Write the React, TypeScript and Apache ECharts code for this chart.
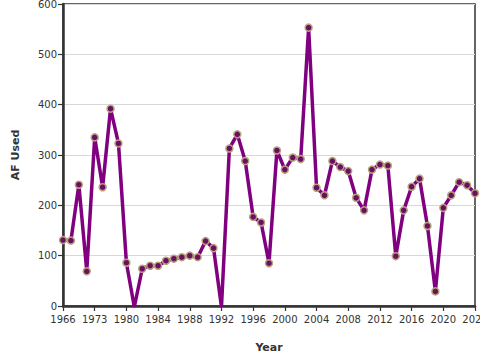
import React, { useEffect, useRef } from "react";
import * as echarts from "echarts";

const years = [
  "1966", "1968", "1970", "1972", "1973", "1975", "1977", "1979",
  "1980", "1981", "1982", "1983", "1984", "1985", "1986", "1987", "1988", "1989",
  "1990", "1991", "1992", "1993", "1994", "1995", "1996", "1997", "1998", "1999",
  "2000", "2001", "2002", "2003", "2004", "2005", "2006", "2007", "2008", "2009",
  "2010", "2011", "2012", "2013", "2014", "2015", "2016", "2017", "2018", "2019",
  "2020", "2021", "2022", "2023", "2024",
];

const afUsed = [
  131, 130, 241, 69, 335, 236, 392, 323,
  86, -2, 74, 80, 80, 90, 94, 97, 100, 97,
  129, 115, -2, 313, 341, 288, 177, 166, 85, 309,
  271, 295, 292, 553, 235, 220, 288, 276, 268, 215,
  190, 271, 281, 279, 99, 190, 237, 253, 159, 29,
  195, 220, 246, 240, 224,
];

const yTicks = { min: 0, max: 600, interval: 100 };

export default function App() {
  const ref = useRef<HTMLDivElement>(null);
  useEffect(() => {
    if (!ref.current) return;
    const chart = echarts.init(ref.current, null, { renderer: "svg" });
    const font = "DejaVu Sans";
    chart.setOption({
      animation: false,
      grid: {
        left: 63,
        right: 5,
        top: 4,
        bottom: 54,
        show: true,
        borderColor: "#333",
        borderWidth: 1.5,
        containLabel: false,
        outerBoundsMode: "none",
      },
      xAxis: {
        type: "category",
        data: years,
        boundaryGap: false,
        name: "Year",
        nameLocation: "middle",
        nameGap: 36,
        nameTextStyle: { fontFamily: font, fontSize: 11, fontWeight: "bold", color: "#333" },
        axisLine: { lineStyle: { color: "#333", width: 2.5 } },
        axisTick: { interval: 3, length: 5, lineStyle: { color: "#333", width: 1.2 } },
        axisLabel: { interval: 3, fontFamily: font, fontSize: 10, color: "#333", margin: 8 },
        splitLine: { show: false },
      },
      yAxis: {
        type: "value",
        min: yTicks.min,
        max: yTicks.max,
        interval: yTicks.interval,
        name: "AF Used",
        nameLocation: "middle",
        nameGap: 42,
        nameTextStyle: { fontFamily: font, fontSize: 11, fontWeight: "bold", color: "#333" },
        axisLine: { show: true, lineStyle: { color: "#333", width: 2.5 } },
        axisTick: { show: true, length: 5, lineStyle: { color: "#333", width: 1.2 } },
        axisLabel: { fontFamily: font, fontSize: 10, color: "#333", margin: 6 },
        splitLine: { lineStyle: { color: "#d8d8d8", width: 1 } },
      },
      series: [
        {
          type: "line",
          data: afUsed,
          symbol: "circle",
          symbolSize: 7,
          showAllSymbol: true,
          lineStyle: { color: "#800080", width: 3.5 },
          itemStyle: { color: "#6a1060", borderColor: "#b8a27e", borderWidth: 1.5 },
        },
      ],
    });
    return () => chart.dispose();
  }, []);
  return <div ref={ref} style={{ width: 480, height: 360, position: "absolute", left: 0, top: 0 }} />;
}
